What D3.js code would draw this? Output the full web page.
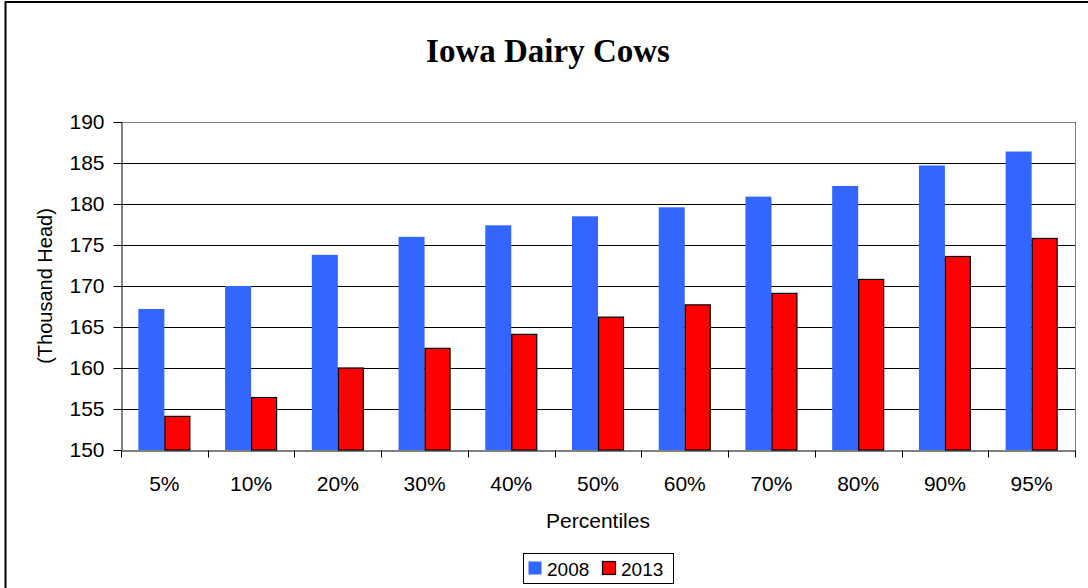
<!DOCTYPE html>
<html><head><meta charset="utf-8">
<script src="https://cdn.jsdelivr.net/npm/d3@7"></script>
<style>body{margin:0;background:#fff;} svg{display:block;}</style>
</head><body>
<script>
const categories = ["5%","10%","20%","30%","40%","50%","60%","70%","80%","90%","95%"];
const series2008 = [167.2,170.0,173.8,176.0,177.4,178.5,179.6,180.9,182.2,184.7,186.4];
const series2013 = [154.1,156.4,160.0,162.4,164.1,166.2,167.7,169.1,170.8,173.6,175.8];
const seriesNames = ["2008","2013"];
const yTicks = [150,155,160,165,170,175,180,185,190];

const W=1088,H=588;
const svg=d3.select("body").append("svg").attr("width",W).attr("height",H);
svg.append("rect").attr("width",W).attr("height",H).attr("fill","#fff");
// outer chart border
svg.append("rect").attr("x",5.5).attr("y",2).attr("width",W+20).attr("height",H+20)
  .attr("fill","none").attr("stroke","#000").attr("stroke-width",2);

const L=121,R=1075,T=122,B=450;
const x=d3.scaleBand().domain(categories).range([L,R]).paddingInner(0).paddingOuter(0);
const y=d3.scaleLinear().domain([150,190]).range([B,T]);
const bw=26;

const g=svg.append("g");
// gridlines
g.selectAll("line.grid").data(yTicks.filter(v=>v>150)).enter().append("line")
  .attr("x1",L).attr("x2",R).attr("y1",d=>Math.round(y(d))+0.5).attr("y2",d=>Math.round(y(d))+0.5)
  .attr("stroke",d=>d===190?"#808080":"#000").attr("stroke-width",1);
// plot right border
g.append("line").attr("x1",R+0.5).attr("x2",R+0.5).attr("y1",T).attr("y2",B).attr("stroke","#808080");

const cw=x.bandwidth();
// bars
g.selectAll("rect.b08").data(categories).enter().append("rect")
  .attr("x",(d)=>x(d)+cw/2-bw).attr("width",bw)
  .attr("y",(d,i)=>y(series2008[i])).attr("height",(d,i)=>B-y(series2008[i]))
  .attr("fill","#3366FF");
g.selectAll("rect.b13").data(categories).enter().append("rect")
  .attr("x",(d)=>x(d)+cw/2+0.5).attr("width",bw-1)
  .attr("y",(d,i)=>y(series2013[i])).attr("height",(d,i)=>B-y(series2013[i]))
  .attr("fill","#FF0000").attr("stroke","#000").attr("stroke-width",1.2);

// y axis
const yAxis=d3.axisLeft(y).tickValues(yTicks).tickSize(8).tickPadding(9).tickFormat(d3.format("d"));
const ya=svg.append("g").attr("transform",`translate(${L+0.5},0)`).call(yAxis);
ya.select(".domain").attr("stroke","#000");
ya.selectAll(".tick line").attr("stroke","#000");
ya.selectAll("text").attr("font-family","Arial, 'Liberation Sans', sans-serif").attr("font-size",21).attr("fill","#000");

// x axis
const xa=svg.append("g").attr("transform",`translate(0,${B+0.5})`)
  .call(d3.axisBottom(x).tickSize(0).tickPadding(26));
xa.select(".domain").attr("stroke","#000");
xa.selectAll("text").attr("font-family","Arial, 'Liberation Sans', sans-serif").attr("font-size",21).attr("fill","#000");
// x ticks at category boundaries
xa.selectAll("line.bt").data(d3.range(categories.length+1)).enter().append("line")
  .attr("x1",i=>Math.round(L+i*cw)+0.5).attr("x2",i=>Math.round(L+i*cw)+0.5)
  .attr("y1",0).attr("y2",7).attr("stroke","#000");

// titles
svg.append("text").attr("x",548).attr("y",62).attr("text-anchor","middle")
  .attr("font-family","'Times New Roman','Liberation Serif',serif").attr("font-weight","bold")
  .attr("font-size",33).text("Iowa Dairy Cows");
svg.append("text").attr("x",598).attr("y",528).attr("text-anchor","middle")
  .attr("font-family","Arial, 'Liberation Sans', sans-serif").attr("font-size",21).text("Percentiles");
svg.append("text").attr("transform","translate(52,286) rotate(-90)").attr("text-anchor","middle")
  .attr("font-family","Arial, 'Liberation Sans', sans-serif").attr("font-size",20).text("(Thousand Head)");

// legend
const lg=svg.append("g");
lg.append("rect").attr("x",523.5).attr("y",553.5).attr("width",150).attr("height",30)
  .attr("fill","#fff").attr("stroke","#000");
const colors=["#3366FF","#FF0000"];
const lx=[528,602];
seriesNames.forEach((n,i)=>{
  lg.append("rect").attr("x",lx[i]+0.5).attr("y",561.5).attr("width",13).attr("height",13)
    .attr("fill",colors[i]).attr("stroke",i===1?"#000":"none").attr("stroke-width",1.2);
  lg.append("text").attr("x",lx[i]+19).attr("y",575.5)
    .attr("font-family","Arial, 'Liberation Sans', sans-serif").attr("font-size",19).text(n);
});
</script>
</body></html>
